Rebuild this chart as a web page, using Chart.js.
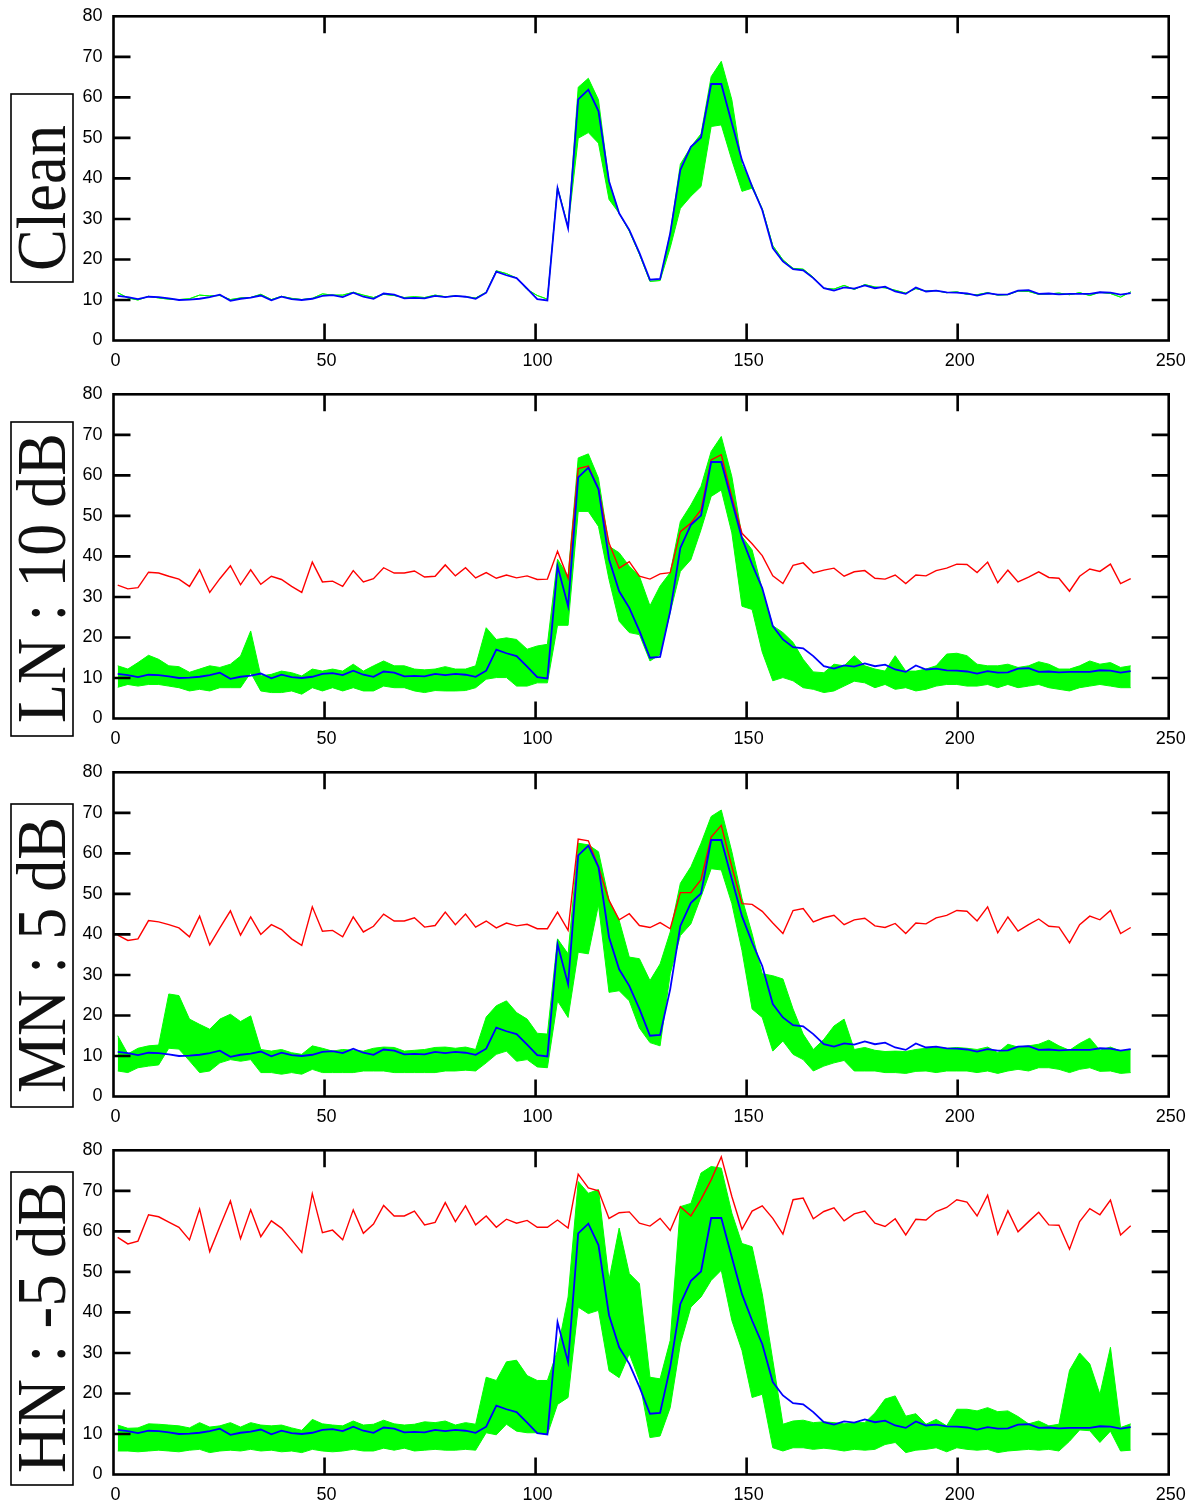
<!DOCTYPE html>
<html>
<head>
<meta charset="utf-8">
<script src="https://cdn.jsdelivr.net/npm/chart.js@4.4.1/dist/chart.umd.min.js"></script>
<style>
  html, body { margin: 0; padding: 0; background: #fff; overflow: hidden; }
  canvas { position: absolute; left: 0; }
</style>
</head>
<body>
<canvas id="panel0" width="1196" height="378" style="top:0px"></canvas>
<canvas id="panel1" width="1196" height="378" style="top:378px"></canvas>
<canvas id="panel2" width="1196" height="378" style="top:756px"></canvas>
<canvas id="panel3" width="1196" height="378" style="top:1134px"></canvas>
<script>
"use strict";

// frame positions of the sampled trajectory
const frames = [
  1, 3.4, 5.8, 8.3, 10.7, 13.1, 15.5, 18.0, 20.4, 22.8,
  25.2, 27.7, 30.1, 32.5, 34.9, 37.4, 39.8, 42.2, 44.6, 47.1,
  49.5, 51.9, 54.3, 56.8, 59.2, 61.6, 64.0, 66.5, 68.9, 71.3,
  73.7, 76.2, 78.6, 81.0, 83.4, 85.8, 88.3, 90.7, 93.1, 95.5,
  98.0, 100.4, 102.8, 105.2, 107.7, 110.1, 112.5, 114.9, 117.4, 119.8,
  122.2, 124.6, 127.1, 129.5, 131.9, 134.3, 136.8, 139.2, 141.6, 144.0,
  146.5, 148.9, 151.3, 153.7, 156.2, 158.6, 161.0, 163.4, 165.8, 168.3,
  170.7, 173.1, 175.5, 178.0, 180.4, 182.8, 185.2, 187.7, 190.1, 192.5,
  194.9, 197.4, 199.8, 202.2, 204.6, 207.1, 209.5, 211.9, 214.3, 216.8,
  219.2, 221.6, 224.0, 226.5, 228.9, 231.3, 233.7, 236.2, 238.6, 241.0
];

const xTicks = [0, 50, 100, 150, 200, 250];
const yTicks = [0, 10, 20, 30, 40, 50, 60, 70, 80];
const panelLabels = ["Clean", "LN : 10 dB", "MN : 5 dB", "HN : -5 dB"];

// blue: clean reference
const clean = [
  11.0, 10.7, 10.2, 10.8, 10.7, 10.4, 10.0, 10.1, 10.3, 10.7,
  11.3, 9.8, 10.3, 10.6, 11.1, 9.9, 10.8, 10.2, 10.0, 10.3,
  11.0, 11.2, 10.7, 11.8, 10.8, 10.3, 11.6, 11.3, 10.4, 10.5,
  10.4, 11.0, 10.7, 11.0, 10.8, 10.3, 11.8, 17.0, 16.1, 15.4,
  12.8, 10.2, 9.9, 37.6, 27.7, 59.5, 61.9, 56.6, 39.3, 31.4,
  27.3, 21.6, 15.0, 15.2, 26.5, 42.1, 47.8, 50.1, 63.3, 63.3,
  53.6, 44.5, 38.0, 32.2, 22.8, 19.5, 17.6, 17.3, 15.4, 12.9,
  12.3, 13.1, 12.8, 13.6, 12.9, 13.3, 12.1, 11.5, 13.1, 12.1,
  12.3, 11.9, 11.8, 11.6, 11.1, 11.7, 11.3, 11.4, 12.3, 12.4,
  11.5, 11.6, 11.4, 11.5, 11.5, 11.5, 11.9, 11.8, 11.3, 11.7
];

// red: noisy input
const lnNoisy = [
  32.9, 32.0, 32.3, 36.1, 35.9, 35.1, 34.4, 32.6, 36.7, 31.1,
  34.5, 37.7, 33.0, 36.7, 33.1, 35.1, 34.3, 32.6, 31.1, 38.6,
  33.7, 33.9, 32.6, 36.5, 33.7, 34.5, 37.2, 35.9, 35.9, 36.4,
  34.9, 35.1, 37.9, 35.2, 37.2, 34.7, 36.0, 34.6, 35.4, 34.7,
  35.2, 34.3, 34.4, 41.3, 34.6, 61.7, 62.3, 56.6, 43.3, 37.1,
  38.7, 35.1, 34.4, 35.7, 36.0, 46.1, 48.2, 51.5, 63.8, 65.1,
  54.7, 45.7, 43.1, 40.2, 35.2, 33.3, 37.8, 38.4, 35.9, 36.6,
  37.1, 35.1, 36.2, 36.5, 34.6, 34.4, 35.4, 33.3, 35.4, 35.2,
  36.5, 37.1, 38.1, 38.0, 36.0, 38.6, 33.5, 36.6, 33.7, 34.9,
  36.2, 34.8, 34.6, 31.4, 35.1, 36.9, 36.3, 38.1, 33.3, 34.5
];
const mnNoisy = [
  39.8, 38.5, 38.9, 43.4, 43.1, 42.4, 41.6, 39.4, 44.5, 37.4,
  41.6, 45.8, 39.8, 44.3, 40.0, 42.4, 41.2, 38.9, 37.3, 46.8,
  40.8, 41.0, 39.4, 44.3, 40.6, 42.0, 45.0, 43.3, 43.3, 44.1,
  41.8, 42.2, 45.5, 42.4, 45.0, 41.8, 43.3, 41.6, 42.8, 42.1,
  42.5, 41.4, 41.4, 45.5, 41.0, 63.5, 63.1, 56.7, 48.4, 43.6,
  45.1, 42.2, 41.7, 42.9, 41.4, 50.3, 50.3, 53.5, 64.0, 66.9,
  56.7, 47.6, 47.4, 45.7, 42.8, 40.2, 45.9, 46.4, 43.1, 44.1,
  44.7, 42.4, 43.6, 44.0, 42.1, 41.7, 42.7, 40.2, 42.8, 42.6,
  44.1, 44.7, 45.9, 45.7, 43.3, 46.8, 40.4, 44.3, 40.8, 42.4,
  43.8, 42.0, 41.8, 37.9, 42.4, 44.5, 43.6, 45.9, 40.2, 41.7
];
const hnNoisy = [
  58.5, 56.9, 57.6, 64.1, 63.6, 62.3, 61.0, 57.9, 65.5, 55.0,
  61.2, 67.5, 58.2, 65.3, 58.7, 62.6, 60.8, 57.9, 54.8, 69.3,
  59.7, 60.3, 57.9, 65.3, 59.5, 61.8, 66.4, 63.8, 63.8, 65.0,
  61.6, 62.2, 67.1, 62.4, 66.3, 61.6, 63.8, 61.0, 63.0, 62.0,
  62.7, 61.0, 61.0, 62.8, 60.8, 74.1, 70.7, 70.0, 63.2, 64.6,
  64.8, 62.0, 61.3, 63.2, 60.2, 66.1, 63.8, 67.9, 72.7, 78.4,
  68.6, 60.5, 65.0, 66.3, 63.2, 59.3, 67.8, 68.2, 63.1, 64.9,
  65.8, 62.6, 64.3, 65.0, 62.0, 61.2, 63.1, 59.1, 63.0, 62.8,
  64.9, 65.9, 67.8, 67.2, 63.8, 68.9, 59.3, 65.1, 59.9, 62.4,
  64.7, 61.6, 61.5, 55.6, 62.4, 65.6, 64.1, 67.7, 59.1, 61.4
];

// green: spread of the estimates (upper / lower edge)
const cleanHi = [
  11.8, 10.5, 10.0, 10.9, 10.5, 10.2, 10.1, 10.3, 11.2, 11.0,
  11.1, 10.1, 10.5, 10.6, 11.4, 10.1, 10.9, 10.4, 10.1, 10.4,
  11.5, 11.2, 11.2, 11.9, 11.2, 10.6, 11.4, 11.1, 10.6, 10.8,
  10.6, 11.2, 10.8, 11.0, 10.8, 10.5, 11.9, 17.2, 16.5, 15.4,
  12.6, 11.1, 10.2, 37.8, 28.0, 62.5, 64.7, 59.4, 39.2, 31.4,
  27.0, 21.3, 14.6, 14.8, 26.5, 43.5, 47.8, 51.0, 65.1, 68.9,
  59.4, 43.4, 38.3, 32.5, 23.4, 19.9, 17.8, 17.6, 15.6, 12.9,
  12.7, 13.6, 12.6, 13.8, 13.2, 13.0, 12.4, 11.7, 12.8, 12.2,
  12.3, 11.8, 12.0, 11.4, 11.3, 11.8, 11.2, 11.3, 12.2, 12.1,
  11.4, 11.5, 11.7, 11.3, 11.8, 11.1, 11.9, 11.6, 10.7, 12.0
];
const cleanLo = [
  11.8, 10.5, 10.0, 10.9, 10.5, 10.2, 10.1, 10.3, 11.2, 11.0,
  11.1, 10.1, 10.5, 10.6, 11.4, 10.1, 10.9, 10.4, 10.1, 10.4,
  11.5, 11.2, 11.2, 11.9, 11.2, 10.6, 11.4, 11.1, 10.6, 10.8,
  10.6, 11.2, 10.8, 11.0, 10.8, 10.5, 11.9, 17.2, 16.5, 15.4,
  12.6, 11.1, 10.2, 37.8, 28.0, 49.9, 51.3, 48.7, 34.8, 31.4,
  27.0, 21.3, 14.6, 14.8, 22.9, 32.6, 35.6, 38.0, 52.8, 53.2,
  44.5, 36.8, 37.6, 32.5, 23.4, 19.9, 17.8, 17.6, 15.6, 12.9,
  12.7, 13.6, 12.6, 13.8, 13.2, 13.0, 12.4, 11.7, 12.8, 12.2,
  12.3, 11.8, 12.0, 11.4, 11.3, 11.8, 11.2, 11.3, 12.2, 12.1,
  11.4, 11.5, 11.7, 11.3, 11.8, 11.1, 11.9, 11.6, 10.7, 12.0
];
const lnHi = [
  13.0, 12.2, 13.8, 15.6, 14.6, 13.0, 12.8, 11.4, 12.2, 13.0,
  12.6, 13.4, 15.4, 21.6, 10.5, 10.9, 11.7, 11.3, 10.5, 12.2,
  11.7, 12.2, 11.7, 13.4, 11.7, 13.0, 14.2, 13.0, 13.0, 12.2,
  12.0, 12.2, 12.8, 12.2, 12.2, 13.0, 22.4, 19.5, 19.9, 19.5,
  17.1, 17.9, 18.3, 39.3, 35.1, 64.3, 65.3, 59.3, 42.5, 40.9,
  37.6, 35.1, 27.8, 32.7, 36.0, 48.6, 52.7, 57.3, 65.9, 69.6,
  59.7, 44.9, 41.6, 31.9, 22.9, 21.2, 18.8, 14.6, 11.5, 11.3,
  13.4, 13.0, 15.5, 13.0, 12.2, 11.7, 15.5, 11.7, 11.7, 12.2,
  13.0, 15.9, 16.1, 15.5, 13.4, 13.0, 13.0, 13.4, 12.6, 13.0,
  14.0, 13.4, 12.2, 12.2, 13.0, 14.2, 13.4, 13.8, 12.6, 13.0
];
const lnLo = [
  7.7, 8.4, 8.0, 8.4, 8.4, 8.0, 7.6, 6.8, 7.2, 6.8,
  7.6, 7.6, 7.6, 11.3, 6.8, 6.4, 6.4, 6.8, 6.0, 7.6,
  6.8, 7.6, 6.8, 7.6, 6.8, 6.8, 8.0, 7.6, 7.6, 6.8,
  6.4, 6.9, 6.8, 6.8, 6.9, 7.6, 9.7, 10.1, 10.1, 8.0,
  8.0, 8.8, 8.8, 23.0, 23.0, 51.1, 51.1, 47.4, 34.3, 24.0,
  21.2, 20.7, 14.2, 15.8, 26.2, 36.3, 39.2, 46.6, 54.8, 56.4,
  45.8, 27.7, 26.9, 16.4, 9.3, 10.1, 9.3, 7.6, 7.2, 6.4,
  6.8, 8.0, 9.2, 8.8, 7.6, 8.4, 7.2, 7.6, 6.8, 7.2,
  8.0, 8.4, 8.4, 8.0, 8.0, 8.4, 7.6, 8.4, 7.6, 8.0,
  8.4, 7.6, 7.2, 6.8, 7.6, 8.0, 8.4, 8.0, 7.6, 7.6
];
const mnHi = [
  15.0, 10.5, 11.9, 12.5, 12.7, 25.3, 24.9, 19.1, 17.8, 16.6,
  19.1, 20.3, 18.5, 19.9, 11.6, 11.2, 11.6, 10.8, 10.4, 12.5,
  11.9, 11.2, 11.6, 11.4, 11.2, 11.9, 12.2, 12.1, 11.2, 11.4,
  11.6, 12.1, 12.2, 11.9, 12.2, 11.6, 19.6, 22.4, 23.6, 20.7,
  19.1, 15.6, 15.4, 38.9, 35.2, 62.5, 62.1, 60.4, 48.4, 43.5,
  34.4, 34.0, 28.6, 32.7, 40.6, 52.6, 56.7, 62.5, 69.1, 70.7,
  60.4, 48.9, 40.2, 30.3, 29.8, 29.0, 21.6, 15.4, 11.6, 14.1,
  17.4, 19.1, 11.6, 12.1, 11.4, 11.1, 11.2, 11.1, 11.6, 11.9,
  12.1, 11.9, 12.1, 11.9, 11.6, 12.2, 10.8, 12.9, 12.2, 12.5,
  12.9, 13.9, 12.5, 11.4, 13.1, 14.4, 11.4, 12.2, 11.2, 11.6
];
const mnLo = [
  6.3, 5.9, 7.1, 7.5, 7.8, 11.9, 11.7, 8.8, 5.9, 6.3,
  8.3, 9.1, 8.7, 9.1, 5.9, 5.9, 5.5, 5.9, 5.5, 6.7,
  5.9, 5.9, 5.9, 5.9, 6.3, 6.3, 6.3, 5.9, 5.9, 5.9,
  5.9, 5.9, 6.3, 6.3, 6.5, 6.3, 8.3, 10.4, 11.2, 8.7,
  9.1, 7.3, 7.1, 23.6, 19.5, 35.6, 35.2, 47.3, 25.7, 26.1,
  23.6, 16.9, 13.3, 12.5, 30.3, 39.7, 42.6, 49.3, 56.2, 55.9,
  47.6, 36.0, 21.6, 19.5, 11.2, 13.7, 10.4, 9.1, 6.3, 7.5,
  8.3, 8.9, 6.3, 6.3, 6.3, 5.9, 5.9, 5.7, 6.2, 6.3,
  5.9, 6.3, 6.3, 6.3, 5.9, 6.3, 5.7, 6.3, 6.7, 6.3,
  7.1, 7.1, 6.7, 5.9, 6.7, 7.1, 6.2, 6.3, 5.7, 5.9
];
const hnHi = [
  12.2, 11.4, 11.5, 12.5, 12.4, 12.2, 12.0, 11.5, 12.8, 11.7,
  12.0, 12.8, 11.7, 12.8, 12.2, 12.0, 12.2, 11.5, 10.9, 13.6,
  12.5, 12.2, 12.0, 13.2, 12.2, 12.4, 13.4, 12.5, 12.2, 12.4,
  13.0, 12.8, 13.2, 12.2, 12.8, 12.4, 24.0, 23.2, 27.8, 28.2,
  24.4, 23.2, 23.2, 30.6, 43.8, 72.3, 69.4, 70.3, 48.0, 60.8,
  49.6, 47.1, 24.0, 23.6, 33.1, 66.1, 66.9, 74.4, 76.0, 75.6,
  64.5, 57.0, 56.2, 44.6, 28.2, 12.4, 13.2, 13.4, 12.8, 13.0,
  12.8, 12.5, 12.8, 12.8, 15.2, 18.6, 19.4, 14.4, 15.0, 12.4,
  13.6, 12.0, 16.1, 16.1, 15.7, 16.5, 15.5, 15.7, 14.3, 12.5,
  13.2, 12.0, 12.4, 25.7, 30.0, 27.3, 19.8, 31.4, 11.6, 12.5
];
const hnLo = [
  5.8, 5.8, 5.6, 5.8, 6.0, 5.8, 5.6, 6.0, 6.2, 5.4,
  5.8, 6.0, 5.8, 6.2, 5.8, 6.0, 5.6, 5.8, 5.4, 6.2,
  5.8, 5.6, 5.8, 6.2, 5.8, 5.8, 6.5, 6.0, 6.5, 5.8,
  6.0, 6.2, 6.0, 6.0, 6.2, 6.0, 10.3, 9.8, 12.4, 10.7,
  10.3, 10.3, 9.9, 17.3, 19.0, 41.3, 39.7, 40.5, 25.6, 23.9,
  29.8, 23.2, 9.1, 9.5, 16.5, 32.2, 41.3, 43.8, 47.9, 50.4,
  38.0, 30.6, 19.0, 19.8, 6.6, 5.8, 6.6, 6.6, 6.2, 6.5,
  6.2, 5.8, 6.2, 6.0, 6.2, 7.4, 7.9, 5.4, 6.0, 6.2,
  6.6, 5.6, 6.6, 6.2, 6.0, 6.2, 5.4, 5.8, 6.0, 6.2,
  6.0, 6.2, 5.8, 8.2, 11.0, 10.8, 7.9, 10.7, 5.8, 6.0
];

const panels = [
  { label: panelLabels[0], noisy: null, hi: cleanHi, lo: cleanLo },
  { label: panelLabels[1], noisy: lnNoisy, hi: lnHi, lo: lnLo },
  { label: panelLabels[2], noisy: mnNoisy, hi: mnHi, lo: mnLo },
  { label: panelLabels[3], noisy: hnNoisy, hi: hnHi, lo: hnLo }
];

// box + rotated text on the left (top/bottom of box, bottom end of text, text length)
const labelBoxes = [
  { top: 94, bottom: 282, start: 271, len: 146 },
  { top: 44, bottom: 358, start: 345, len: 290 },
  { top: 48, bottom: 351, start: 337, len: 276 },
  { top: 38, bottom: 351, start: 339, len: 291 }
];

const pts = arr => frames.map((x, i) => ({ x: x, y: arr[i] }));

const frameTicks = {
  id: "frameTicks",
  afterDatasetsDraw(chart, args, opts) {
    const { ctx, chartArea: a, scales: { x, y } } = chart;
    const tl = 17;
    ctx.save();
    ctx.strokeStyle = "#000";
    ctx.lineWidth = 2.6;
    ctx.beginPath();
    xTicks.slice(1, -1).forEach(v => {
      const px = x.getPixelForValue(v);
      ctx.moveTo(px, a.top); ctx.lineTo(px, a.top + tl);
      ctx.moveTo(px, a.bottom); ctx.lineTo(px, a.bottom - tl);
    });
    yTicks.slice(1, -1).forEach(v => {
      const py = y.getPixelForValue(v);
      ctx.moveTo(a.left, py); ctx.lineTo(a.left + tl, py);
      ctx.moveTo(a.right, py); ctx.lineTo(a.right - tl, py);
    });
    ctx.stroke();
    ctx.strokeRect(a.left, a.top, a.right - a.left, a.bottom - a.top);

    // side label
    const b = opts.box;
    ctx.lineWidth = 1.6;
    ctx.strokeRect(11, b.top, 62, b.bottom - b.top);
    ctx.fillStyle = "#111";
    ctx.font = "70px 'Liberation Serif', 'DejaVu Serif', serif";
    ctx.textBaseline = "alphabetic";
    ctx.textAlign = "left";
    const w = ctx.measureText(opts.text).width;
    ctx.translate(65, b.start);
    ctx.rotate(-Math.PI / 2);
    ctx.scale(b.len / w, 1);
    ctx.fillText(opts.text, 0, 0);
    ctx.restore();
  }
};

const tickFont = { family: "'Liberation Sans', Arial, sans-serif", size: 18 };

panels.forEach((p, k) => {
  const datasets = [
    { data: pts(clean), borderColor: "#0000ff", borderWidth: 1.8, fill: false }
  ];
  if (p.noisy) {
    datasets.push({ data: pts(p.noisy), borderColor: "#ff0000", borderWidth: 1.4, fill: false });
  }
  datasets.push({ data: pts(p.hi), borderColor: "#00ff00", borderWidth: 1, backgroundColor: "#00ff00", fill: "+1" });
  datasets.push({ data: pts(p.lo), borderColor: "#00ff00", borderWidth: 1, fill: false });

  new Chart(document.getElementById("panel" + k), {
    type: "line",
    data: { datasets: datasets },
    plugins: [frameTicks],
    options: {
      responsive: false,
      animation: false,
      devicePixelRatio: 1,
      layout: { autoPadding: false, padding: { top: 16.3, right: 27.3, bottom: 0, left: 0 } },
      elements: { point: { radius: 0 }, line: { tension: 0 } },
      plugins: {
        legend: { display: false },
        tooltip: { enabled: false },
        frameTicks: { text: p.label, box: labelBoxes[k] }
      },
      scales: {
        x: {
          type: "linear",
          min: 0,
          max: 250,
          afterBuildTicks: s => { s.ticks = xTicks.map(v => ({ value: v })); },
          afterFit: s => { s.height = 37.5; },
          grid: { display: false, drawTicks: false },
          border: { display: false },
          ticks: { font: tickFont, color: "#000", padding: 10, labelOffset: 2, maxRotation: 0, autoSkip: false }
        },
        y: {
          min: 0,
          max: 80,
          afterBuildTicks: s => { s.ticks = yTicks.map(v => ({ value: v })); },
          afterFit: s => { s.width = 113.5; s.paddingTop = 0; s.paddingBottom = 0; },
          grid: { display: false, drawTicks: false },
          border: { display: false },
          ticks: { font: tickFont, color: "#000", padding: 11, autoSkip: false }
        }
      }
    }
  });
});
</script>
</body>
</html>
